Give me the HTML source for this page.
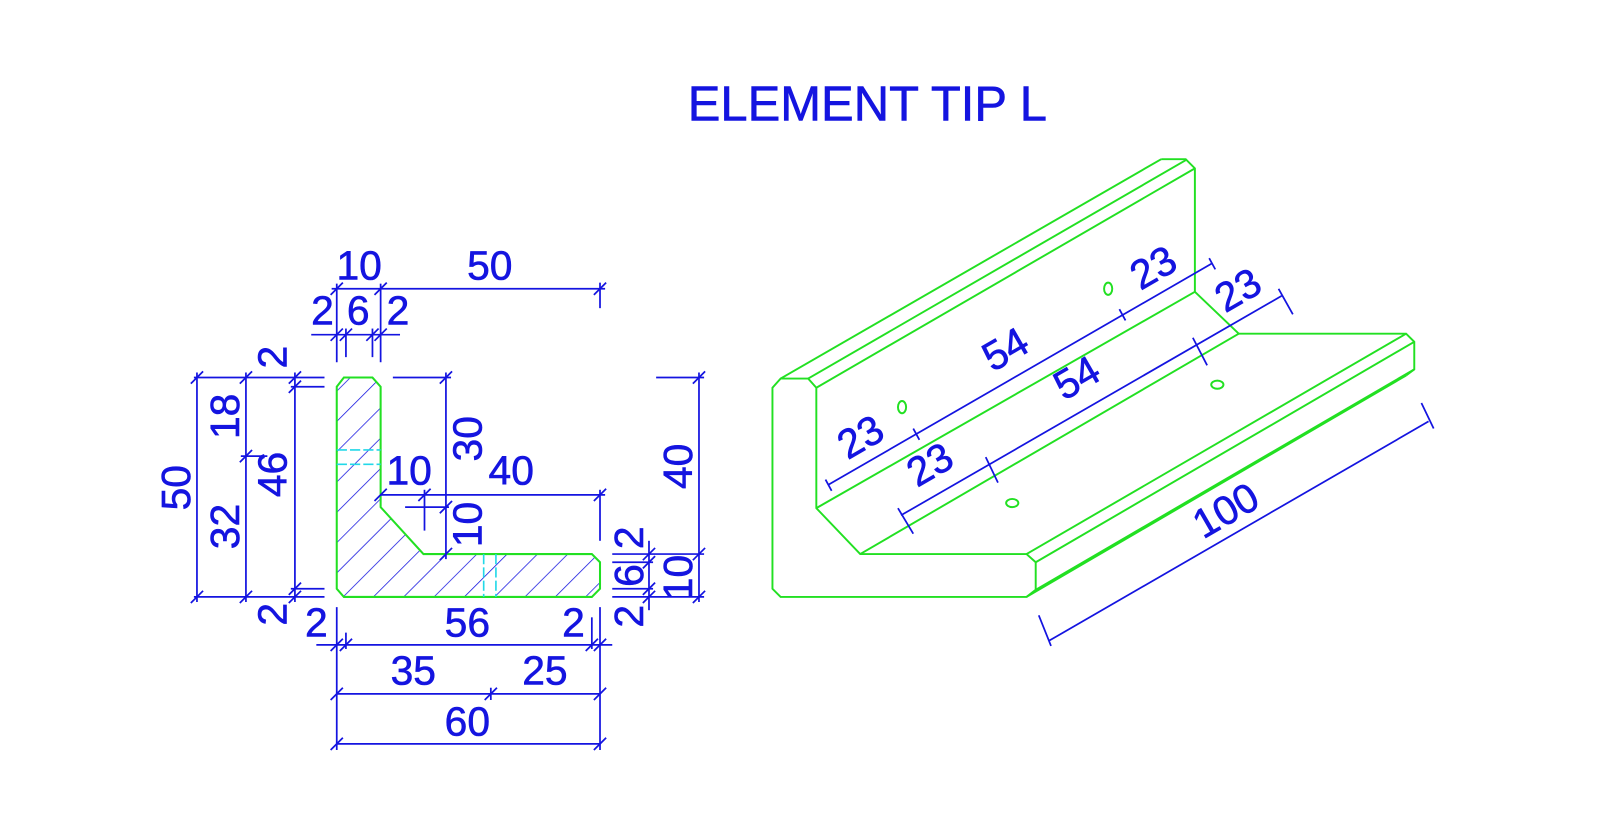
<!DOCTYPE html>
<html><head><meta charset="utf-8"><style>
html,body{margin:0;padding:0;background:#fff;width:1600px;height:836px;overflow:hidden}
svg{display:block}
text{font-family:"Liberation Sans",sans-serif;fill:#1414e0;font-size:40px;stroke:#1414e0;stroke-width:0.6}
</style></head><body>
<svg width="1600" height="836" viewBox="0 0 1568 819.3" xmlns="http://www.w3.org/2000/svg">
<defs>
<pattern id="h" patternUnits="userSpaceOnUse" width="21" height="21" patternTransform="rotate(45)">
<line x1="0" y1="0" x2="0" y2="21" stroke="#1414e0" stroke-width="1.5"/>
</pattern>
</defs>
<text x="850" y="118" text-anchor="middle" style="font-size:48px">ELEMENT TIP L</text>

<!-- section -->
<path d="M337,370 L365,370 L373,379 L373,497 L415,543 L580,543 L588,551 L588,577 L580,585 L337,585 L330,577 L330,379 Z" fill="url(#h)" stroke="#22e022" stroke-width="2"/>
<g stroke="#22d8e8" stroke-width="1.6" stroke-dasharray="10,3">
<line x1="330" y1="441" x2="373" y2="441"/><line x1="330" y1="455" x2="373" y2="455"/>
<line x1="474" y1="543" x2="474" y2="585"/><line x1="486" y1="543" x2="486" y2="585"/>
</g>

<g stroke="#1414e0" stroke-width="1.7" fill="none">
<line x1="325" y1="283" x2="593" y2="283"/>
<line x1="330" y1="278" x2="330" y2="355"/><line x1="373" y1="278" x2="373" y2="355"/><line x1="588" y1="277" x2="588" y2="302"/>
<line x1="305" y1="328" x2="392" y2="328"/>
<line x1="339" y1="322" x2="339" y2="350"/><line x1="365" y1="322" x2="365" y2="350"/>
<line x1="190" y1="370" x2="318" y2="370"/><line x1="190" y1="585" x2="318" y2="585"/>
<line x1="285" y1="379" x2="318" y2="379"/><line x1="285" y1="577" x2="318" y2="577"/>
<line x1="193" y1="365" x2="193" y2="590"/>
<line x1="241" y1="365" x2="241" y2="590"/><line x1="236" y1="447" x2="262" y2="447"/>
<line x1="289" y1="365" x2="289" y2="590"/>
<line x1="385" y1="370" x2="442" y2="370"/>
<line x1="437" y1="365" x2="437" y2="548"/>
<line x1="373" y1="485" x2="593" y2="485"/><line x1="588" y1="480" x2="588" y2="530"/>
<line x1="416" y1="480" x2="416" y2="520"/><line x1="397" y1="497" x2="440" y2="497"/>
<line x1="643" y1="370" x2="690" y2="370"/>
<line x1="600" y1="543" x2="690" y2="543"/><line x1="600" y1="585" x2="690" y2="585"/>
<line x1="600" y1="551" x2="640" y2="551"/><line x1="600" y1="577" x2="640" y2="577"/>
<line x1="685" y1="365" x2="685" y2="590"/>
<line x1="636" y1="530" x2="636" y2="598"/>
<line x1="330" y1="595" x2="330" y2="735"/><line x1="588" y1="595" x2="588" y2="735"/>
<line x1="339" y1="620" x2="339" y2="636"/><line x1="580" y1="605" x2="580" y2="636"/>
<line x1="310" y1="632" x2="600" y2="632"/>
<line x1="330" y1="680" x2="588" y2="680"/><line x1="481" y1="674" x2="481" y2="686"/>
<line x1="330" y1="729" x2="588" y2="729"/>
<path d="M324,289L336,277M367,289L379,277M582,289L594,277
M333,334L345,322M359,334L371,322M324,334L336,322M367,334L379,322
M187,376L199,364M187,591L199,579M235,376L247,364M235,453L247,441M235,591L247,579
M283,376L295,364M283,385L295,373M283,583L295,571M283,591L295,579
M431,376L443,364M431,503L443,491M431,549L443,537
M367,491L379,479M410,491L422,479M582,491L594,479
M679,376L691,364M679,549L691,537M679,591L691,579
M630,549L642,537M630,557L642,545M630,583L642,571M630,591L642,579
M324,638L336,626M333,638L345,626M574,638L586,626M582,638L594,626
M324,686L336,674M475,686L487,674M582,686L594,674
M324,735L336,723M582,735L594,723"/>
</g>
<text x="352" y="274" text-anchor="middle">10</text>
<text x="480" y="274" text-anchor="middle">50</text>
<text x="316" y="318" text-anchor="middle">2</text>
<text x="351" y="318" text-anchor="middle">6</text>
<text x="390" y="318" text-anchor="middle">2</text>
<g text-anchor="middle">
<text transform="translate(186,478) rotate(-90)">50</text>
<text transform="translate(234,408) rotate(-90)">18</text>
<text transform="translate(234,516) rotate(-90)">32</text>
<text transform="translate(281,465) rotate(-90)">46</text>
<text transform="translate(281,350) rotate(-90)">2</text>
<text transform="translate(281,602) rotate(-90)">2</text>
<text transform="translate(472,430) rotate(-90)">30</text>
<text transform="translate(472,514) rotate(-90)">10</text>
<text transform="translate(678,457) rotate(-90)">40</text>
<text transform="translate(678,566) rotate(-90)">10</text>
<text transform="translate(630,527) rotate(-90)">2</text>
<text transform="translate(630,564) rotate(-90)">6</text>
<text transform="translate(630,604) rotate(-90)">2</text>
</g>
<text x="401" y="475" text-anchor="middle">10</text>
<text x="501" y="475" text-anchor="middle">40</text>
<text x="310" y="624" text-anchor="middle">2</text>
<text x="458" y="624" text-anchor="middle">56</text>
<text x="562" y="624" text-anchor="middle">2</text>
<text x="405" y="671" text-anchor="middle">35</text>
<text x="534" y="671" text-anchor="middle">25</text>
<text x="458" y="721" text-anchor="middle">60</text>

<g stroke="#22e022" stroke-width="1.9" fill="none">
<path d="M765,371 L792,371 L800,380 L800,498 L843,543 L1006,543 L1015,551 L1015,578 L1006,585 L765,585 L757,577 L757,380 Z"/>
<line x1="765" y1="371" x2="1138" y2="156"/>
<line x1="792" y1="371" x2="1162" y2="157"/>
<line x1="800" y1="380" x2="1171" y2="165"/>
<path d="M1138,156 L1162,156 L1171,165 L1171,286"/>
<line x1="800" y1="498" x2="1171" y2="286"/>
<line x1="1171" y1="286" x2="1214" y2="327"/>
<line x1="843" y1="543" x2="1214" y2="327"/>
<path d="M1214,327 L1378,327 L1386,335 L1386,362 L1378,368"/>
<line x1="1006" y1="543" x2="1378" y2="327"/>
<line x1="1015" y1="551" x2="1386" y2="335"/>
<line x1="1015" y1="578" x2="1386" y2="362"/>
<line x1="1006" y1="585" x2="1378" y2="368"/>
<ellipse cx="884" cy="399" rx="4" ry="6"/>
<ellipse cx="1086" cy="283" rx="4" ry="6"/>
<ellipse cx="992" cy="493" rx="6" ry="4"/>
<ellipse cx="1193" cy="377" rx="6" ry="4"/>
</g>
<g stroke="#1414e0" stroke-width="1.7" fill="none">
<line x1="812" y1="475" x2="1188" y2="258"/>
<line x1="883" y1="505" x2="1256" y2="290"/>
<line x1="1028" y1="628" x2="1400" y2="413"/>
<path d="M809,470L815,481M895,420L901,431M1097,303L1103,314M1185,253L1191,264
M880,498L895,523M966,448L978,473M1169,331L1183,358M1253,283L1267,308
M1018,603L1030,633M1393,395L1405,420"/>
</g>
<g text-anchor="middle">
<text transform="translate(850,440) rotate(-30)">23</text>
<text transform="translate(992,354) rotate(-30)">54</text>
<text transform="translate(1137,274) rotate(-30)">23</text>
<text transform="translate(918,467) rotate(-30)">23</text>
<text transform="translate(1062,382) rotate(-30)">54</text>
<text transform="translate(1220,296) rotate(-30)">23</text>
<text transform="translate(1208,512) rotate(-30)">100</text>
</g>
</svg>
</body></html>
